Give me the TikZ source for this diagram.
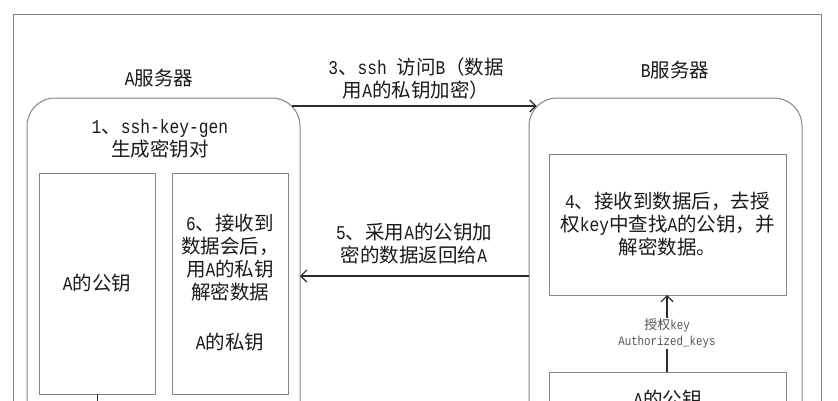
\documentclass[tikz,border=0pt]{standalone}
\usepackage{fontspec}
\setmainfont[FakeStretch=0.8333]{Liberation Mono}
\newfontfamily\cjk{Noto Sans CJK SC}
\newcommand\zh[1]{{\cjk #1}}
\usetikzlibrary{arrows.meta}
\definecolor{boxgray}{HTML}{858585}
\definecolor{arrdark}{HTML}{2A2A2A}
\definecolor{txtc}{HTML}{1A1A1A}
\definecolor{lblc}{HTML}{555555}
\tikzset{
  box/.style={draw=boxgray, line width=1pt, inner sep=0pt, outer sep=0pt},
  rbox/.style={box, rounded corners=28pt},
  txt/.style={align=center, font=\fontsize{19.5}{23}\selectfont, text=txtc, inner sep=0pt},
  arr/.style={draw=arrdark, line width=1.2pt, -{Straight Barb[length=6pt,width=12pt]}},
  conn/.style={draw=arrdark, line width=1.2pt},
  lbl/.style={align=center, font=\fontsize{13}{16}\selectfont, text=lblc, fill=white, inner sep=1pt}
}
\begin{document}
\begin{tikzpicture}[x=1pt,y=-1pt]
\useasboundingbox (0,0) rectangle (838,400);
\clip (0,0) rectangle (838,400);
\fill[white] (0,0) rectangle (838,400);
% outer frame
\node[box, minimum width=808pt, minimum height=406pt] (frame) at (417,217) {};
% server boxes
\node[rbox, minimum width=273pt, minimum height=332pt] (Abox) at (163.5,264) {};
\node[rbox, minimum width=273pt, minimum height=332pt] (Bbox) at (665.5,264) {};
% titles
\node[txt] (titleA) at (159,78) {A\zh{服务器}};
\node[txt] (titleB) at (675,70) {B\zh{服务器}};
\node[txt] (gen) at (160,138.5) {1\zh{、}ssh-key-gen\\\zh{生成密钥对}};
% A inner boxes
\node[box, minimum width=116pt, minimum height=221pt] (pubA) at (97,283.5) {};
\node[box, minimum width=116pt, minimum height=221pt] (privA) at (230,283.5) {};
\node[txt] (pubAt) at (97,283) {A\zh{的公钥}};
\node[txt] (recv6) at (230,257.5) {6\zh{、接收到}\\\zh{数据会后，}\\\zh{用}A\zh{的私钥}\\\zh{解密数据}};
\node[txt] (privAt) at (230,342) {A\zh{的私钥}};
\coordinate (pubAend) at (97,415);
\draw[conn, line width=1pt] (pubA.south) -- (pubAend);
% B inner boxes
\node[box, txt, minimum width=237pt, minimum height=141pt] (box4) at (667.5,224.5)
  {4\zh{、接收到数据后，去授}\\\zh{权}key\zh{中查找}A\zh{的公钥，并}\\\zh{解密数据。}};
\node[box, minimum width=237pt, minimum height=68pt] (pubB) at (667.5,406) {};
\node[txt] (pubBt) at (667.5,399) {A\zh{的公钥}};
\draw[arr] ([xshift=-0.5pt]pubB.north) -- node[lbl] (auth) {\zh{授权}key\\Authorized\_keys} ([xshift=-0.5pt]box4.south);
% arrow 3
\coordinate (a3s) at (291.6,106);
\coordinate (a3e) at (536.5,106);
\draw[arr] (a3s) -- (a3e);
\node[txt] (lbl3) at (416,79) {3\zh{、}ssh \zh{访问}B\zh{（数据}\\\zh{用}A\zh{的私钥加密）}};
% arrow 5
\coordinate (y5) at (0,276);
\draw[arr] (Bbox.west |- y5) -- (Abox.east |- y5);
\node[txt] (lbl5) at (414,243.5) {5\zh{、采用}A\zh{的公钥加}\\\zh{密的数据返回给}A};
\end{tikzpicture}
\end{document}
